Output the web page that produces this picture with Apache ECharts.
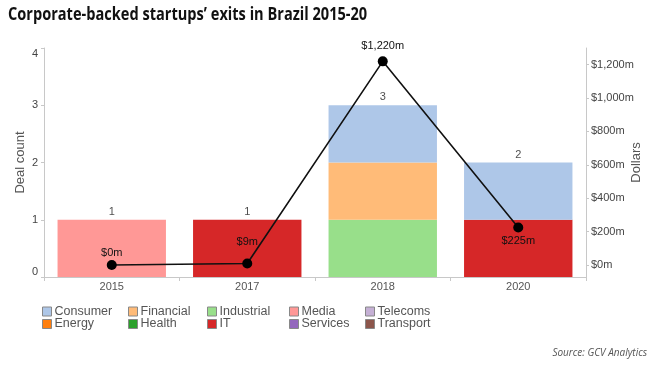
<!DOCTYPE html>
<html><head><meta charset="utf-8">
<script src="https://cdn.jsdelivr.net/npm/echarts@6/dist/echarts.min.js"></script>
<style>html,body{margin:0;padding:0;background:#fff}#c{width:655px;height:368px}</style>
</head><body><div id="c"></div>
<script>
const years = ['2015', '2017', '2018', '2020'];
const consumer   = [null, null, 1, 1];
const energy     = [null, null, null, null];
const financial  = [null, null, 1, null];
const health     = [null, null, null, null];
const industrial = [null, null, 1, null];
const it         = [null, 1, null, 1];
const media      = [1, null, null, null];
const services   = [null, null, null, null];
const telecoms   = [null, null, null, null];
const transport  = [null, null, null, null];
const dollars    = [0, 9, 1220, 225];
const dollarLabels = ['$0m', '$9m', '$1,220m', '$225m'];
const dollarTicks = [0, 200, 400, 600, 800, 1000, 1200];

const sectors = [
  {name: 'Consumer', data: consumer, color: '#aec7e8'},
  {name: 'Energy', data: energy, color: '#ff7f0e'},
  {name: 'Financial', data: financial, color: '#ffbb78'},
  {name: 'Health', data: health, color: '#2ca02c'},
  {name: 'Industrial', data: industrial, color: '#98df8a'},
  {name: 'IT', data: it, color: '#d62728'},
  {name: 'Media', data: media, color: '#ff9896'},
  {name: 'Services', data: services, color: '#9467bd'},
  {name: 'Telecoms', data: telecoms, color: '#c5b0d5'},
  {name: 'Transport', data: transport, color: '#8c564b'}
];
const stackOrder = ['Transport','Telecoms','Services','Media','Industrial','IT','Health','Financial','Energy','Consumer'];
const totals = years.map((y, i) => sectors.reduce((s, sec) => s + (sec.data[i] || 0), 0));

const legendPos = {
  'Consumer': [42, 0], 'Energy': [42, 1],
  'Financial': [128, 0], 'Health': [128, 1],
  'Industrial': [207, 0], 'IT': [207, 1],
  'Media': [289, 0], 'Services': [289, 1],
  'Telecoms': [365, 0], 'Transport': [365, 1]
};
const FONT = 'Liberation Sans, Arial, sans-serif';

const barSeries = stackOrder.map(n => {
  const s = sectors.find(x => x.name === n);
  return {
    name: s.name, type: 'bar', stack: 'deals', data: s.data, yAxisIndex: 0,
    barCategoryGap: '20%', itemStyle: {color: s.color}, emphasis: {disabled: true}
  };
});

const labelOffsets = [
  {position: 'top', distance: 2},
  {position: 'top', distance: 11},
  {position: 'top', distance: 5},
  {position: 'bottom', distance: 3}
];

const option = {
  animation: false,
  graphic: [{
    type: 'text', x: 8, y: 6, scaleX: 0.81,
    style: {text: 'Corporate-backed startups’ exits in Brazil 2015-20',
      font: 'bold 18px "Open Sans", sans-serif', fill: '#111'}
  }, {
    type: 'text', right: 8, top: 348,
    style: {text: 'Source: GCV Analytics', font: 'italic 10px "Open Sans", sans-serif', fill: '#555'}
  }],
  legend: sectors.map(s => ({
    data: [s.name], left: legendPos[s.name][0], top: 305 + legendPos[s.name][1] * 12.5,
    icon: 'rect', itemWidth: 9, itemHeight: 9, padding: 0, itemGap: 0,
    selectedMode: false,
    itemStyle: {borderColor: '#888', borderWidth: 1},
    textStyle: {fontFamily: FONT, fontSize: 12.5, color: '#555', padding: [0, 0, 0, -2]}
  })),
  grid: {left: 44, right: 69, top: 48, bottom: 91, containLabel: false, outerBoundsMode: 'none'},
  xAxis: {
    type: 'category', data: years,
    axisLine: {lineStyle: {color: '#c8c8c8'}},
    axisTick: {show: true, alignWithLabel: false, length: 4, lineStyle: {color: '#c8c8c8'}},
    axisLabel: {fontFamily: FONT, fontSize: 11, color: '#555', margin: 4}
  },
  yAxis: [{
    type: 'value', min: 0, max: 4, interval: 1, position: 'left',
    name: 'Deal count', nameLocation: 'middle', nameGap: 17, nameRotate: 90, nameMoveOverlap: false,
    nameTextStyle: {fontFamily: FONT, fontSize: 13, color: '#555'},
    splitLine: {show: false},
    axisLine: {show: true, lineStyle: {color: '#c8c8c8'}},
    axisTick: {show: true, length: 3, lineStyle: {color: '#c8c8c8'}},
    axisLabel: {fontFamily: FONT, fontSize: 11, color: '#444', margin: 6,
      verticalAlignMinLabel: 'bottom', verticalAlignMaxLabel: 'top'}
  }, {
    type: 'value', min: -72, max: 1300, position: 'right',
    name: 'Dollars', nameLocation: 'middle', nameGap: 44, nameRotate: 90, nameMoveOverlap: false,
    nameTextStyle: {fontFamily: FONT, fontSize: 13, color: '#555'},
    splitLine: {show: false},
    axisLine: {show: true, lineStyle: {color: '#c8c8c8'}},
    axisTick: {show: true, length: 3, customValues: dollarTicks, lineStyle: {color: '#c8c8c8'}},
    axisLabel: {fontFamily: FONT, fontSize: 11, color: '#444', margin: 5, customValues: dollarTicks,
      formatter: v => '$' + v.toLocaleString('en-US') + 'm'}
  }],
  series: barSeries.concat([{
    name: 'totals', type: 'scatter', yAxisIndex: 0, data: totals,
    symbolSize: 1, itemStyle: {color: 'rgba(0,0,0,0)'}, silent: true,
    label: {show: true, position: 'top', distance: 2, fontFamily: FONT, fontSize: 11, color: '#222'}
  }, {
    name: 'Dollars', type: 'line', yAxisIndex: 1,
    data: dollars.map((v, i) => ({value: v, label: Object.assign({show: true, formatter: dollarLabels[i]}, labelOffsets[i])})),
    symbol: 'circle', symbolSize: 10,
    lineStyle: {color: '#111', width: 1.6}, itemStyle: {color: '#000'},
    label: {fontFamily: FONT, fontSize: 11, color: '#111'},
    z: 5
  }])
};
echarts.init(document.getElementById('c')).setOption(option);
</script></body></html>
